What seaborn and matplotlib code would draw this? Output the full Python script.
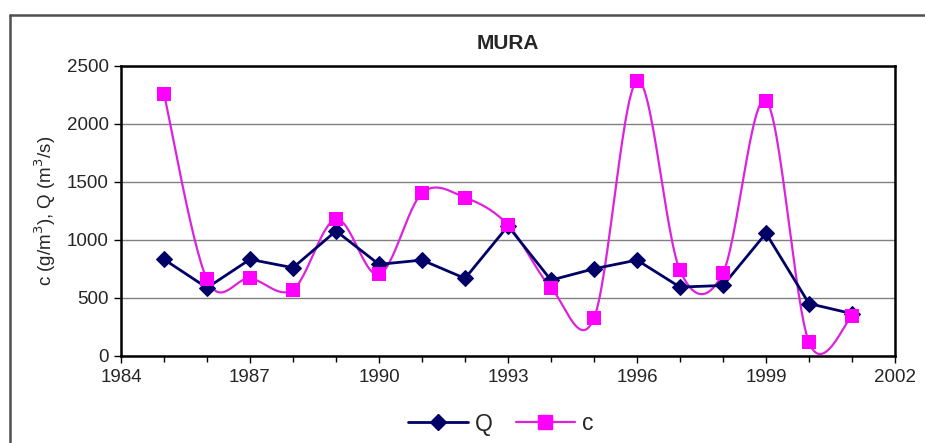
import numpy as np
import pandas as pd
import matplotlib
matplotlib.use("Agg")
import matplotlib.pyplot as plt
import seaborn as sns
from matplotlib.lines import Line2D

years = [1985, 1986, 1987, 1988, 1989, 1990, 1991, 1992, 1993,
         1994, 1995, 1996, 1997, 1998, 1999, 2000, 2001]
Q = [833, 588, 833, 761, 1078, 790, 827, 669, 1121,
     654, 752, 827, 594, 608, 1058, 452, 365]
c = [2259, 660, 669, 573, 1179, 703, 1403, 1366, 1130,
     588, 326, 2372, 738, 718, 2202, 118, 343]
xticks = [1984, 1987, 1990, 1993, 1996, 1999, 2002]
yticks = [0, 500, 1000, 1500, 2000, 2500]

sns.set_style("white")
plt.rcParams['font.family'] = ['Liberation Sans', 'DejaVu Sans']


def smooth(x, y, n=30):
    # Catmull-Rom style smoothing (as Excel "smoothed line")
    x = np.asarray(x, float)
    y = np.asarray(y, float)
    px, py = [], []
    for i in range(len(x) - 1):
        x0, y0 = (x[i - 1], y[i - 1]) if i > 0 else (x[i], y[i])
        x3, y3 = (x[i + 2], y[i + 2]) if i + 2 < len(x) else (x[i + 1], y[i + 1])
        x1, y1, x2, y2 = x[i], y[i], x[i + 1], y[i + 1]
        c1x, c1y = x1 + (x2 - x0) / 6, y1 + (y2 - y0) / 6
        c2x, c2y = x2 - (x3 - x1) / 6, y2 - (y3 - y1) / 6
        t = np.linspace(0, 1, n)
        bx = (1 - t) ** 3 * x1 + 3 * (1 - t) ** 2 * t * c1x + 3 * (1 - t) * t ** 2 * c2x + t ** 3 * x2
        by = (1 - t) ** 3 * y1 + 3 * (1 - t) ** 2 * t * c1y + 3 * (1 - t) * t ** 2 * c2y + t ** 3 * y2
        px.extend(bx)
        py.extend(by)
    return np.array(px), np.array(py)


fig = plt.figure(figsize=(9.25, 4.43), dpi=100)
ax = fig.add_axes([121 / 925, 1 - 356 / 443, (895 - 121) / 925, (356 - 66) / 443])

df = pd.DataFrame({"year": years, "Q": Q, "c": c})
navy = "#000066"
mag_line = "#DD22DD"
mag = "#FF00FF"

sx, sy = smooth(years, c)
sdf = pd.DataFrame({"x": sx, "y": sy})
sns.lineplot(data=sdf, x="x", y="y", ax=ax, sort=False, color=mag_line, lw=1.6, zorder=2)
sns.lineplot(data=df, x="year", y="Q", ax=ax, color=navy, lw=2, marker="D",
             markersize=8.5, markeredgecolor=navy, markerfacecolor=navy, zorder=3)
sns.scatterplot(data=df, x="year", y="c", ax=ax, marker="s", s=110, color=mag,
                edgecolor=mag, linewidth=0, zorder=4)

ax.set_xlim(1984, 2002)
ax.set_ylim(0, 2500)
ax.set_xticks(xticks)
ax.set_xticks(range(1984, 2003), minor=True)
ax.set_yticks(yticks)
ax.tick_params(axis="both", which="major", direction="out", length=5, width=1,
               labelsize=13.5, color="black", left=True, bottom=True, pad=4)
ax.tick_params(axis="x", which="minor", direction="out", length=4, width=1,
               color="black", bottom=True)
ax.yaxis.grid(True, color="#808080", lw=1)
ax.set_axisbelow(True)
for s in ax.spines.values():
    s.set_color("black")
    s.set_linewidth(1.8)
ax.set_xlabel("")
ax.set_ylabel("c (g/m$^3$), Q (m$^3$/s)", fontsize=13.5, labelpad=6)
ax.set_title("MURA", fontsize=15, fontweight="bold", pad=12)

handles = [
    Line2D([], [], color=navy, lw=2, marker="D", markersize=8.5, markerfacecolor=navy),
    Line2D([], [], color=mag_line, lw=1.6, marker="s", markersize=10.5,
           markerfacecolor=mag, markeredgecolor=mag),
]
fig.legend(handles, ["Q", "c"], loc="center", bbox_to_anchor=(501 / 925, 1 - 424 / 443),
           ncol=2, frameon=False, fontsize=16.5, handlelength=2.6, columnspacing=1.0,
           handletextpad=0.3)

fig.add_artist(Line2D([9.5 / 925, 9.5 / 925], [0, 1 - 15 / 443], transform=fig.transFigure,
                      color="#505050", lw=1.8))
fig.add_artist(Line2D([9.5 / 925, 1], [1 - 15 / 443, 1 - 15 / 443], transform=fig.transFigure,
                      color="#505050", lw=1.8))

fig.savefig("out.png", dpi=100)
